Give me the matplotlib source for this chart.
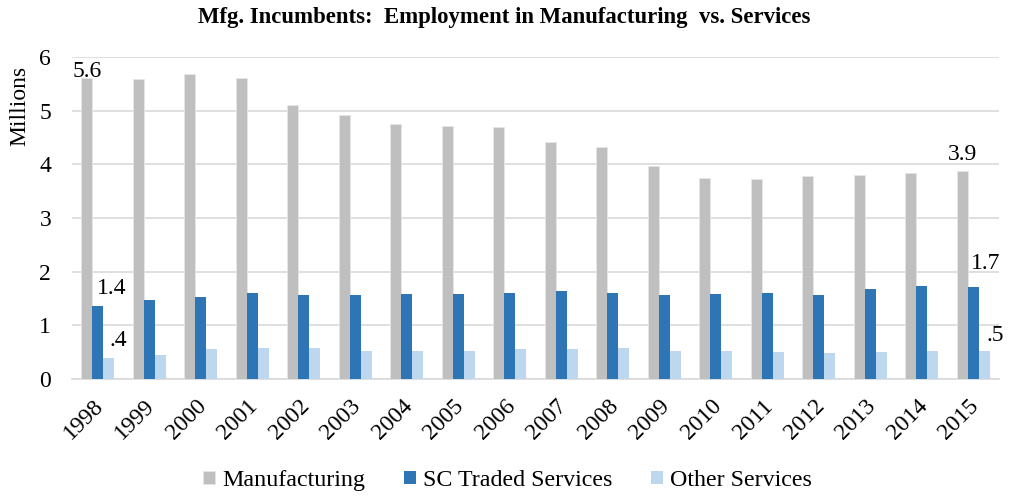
import numpy as np
import matplotlib
matplotlib.use("Agg")
import matplotlib.pyplot as plt
import matplotlib.transforms as mtrans

# data (millions)
years = ["1998", "1999", "2000", "2001", "2002", "2003", "2004", "2005", "2006",
         "2007", "2008", "2009", "2010", "2011", "2012", "2013", "2014", "2015"]
manufacturing = [5.61, 5.59, 5.68, 5.61, 5.11, 4.91, 4.76, 4.71, 4.69,
                 4.42, 4.33, 3.97, 3.75, 3.72, 3.79, 3.81, 3.83, 3.88]
sc_traded = [1.36, 1.47, 1.52, 1.60, 1.56, 1.56, 1.58, 1.58, 1.60,
             1.63, 1.60, 1.56, 1.58, 1.60, 1.56, 1.67, 1.74, 1.72]
other = [0.39, 0.44, 0.55, 0.57, 0.57, 0.52, 0.52, 0.52, 0.55,
         0.55, 0.57, 0.52, 0.52, 0.50, 0.48, 0.50, 0.52, 0.52]
yticks = [0, 1, 2, 3, 4, 5, 6]

plt.rcParams['font.family'] = ['Liberation Serif', 'DejaVu Serif']

fig = plt.figure(figsize=(10.09, 4.98), dpi=100)
ax = fig.add_axes([0.0714, 0.239, 0.9187, 0.6466])

colors = ['#BFBFBF', '#2E75B6', '#BDD7EE']
names = ['Manufacturing', 'SC Traded Services', 'Other Services']
x = np.arange(len(years))
w = 0.215
fs = 17
series = [manufacturing, sc_traded, other]
for i, (vals, c, n) in enumerate(zip(series, colors, names)):
    ax.bar(x + (i - 1) * w, vals, width=w, color=c, label=n,
           edgecolor='#E6E6E6' if i == 0 else 'none', linewidth=0.6, zorder=3)

ax.set_xlim(-0.5, len(years) - 0.5)
ax.set_ylim(0, 6)
ax.set_yticks(yticks)
ax.set_yticklabels([str(t) for t in yticks], fontsize=fs)
ax.set_xticks(x)
ax.set_xticklabels(years, fontsize=fs, rotation=45, ha='right', va='top',
                   rotation_mode='anchor')
ax.tick_params(axis='both', length=0)
ax.tick_params(axis='y', pad=15)
ax.tick_params(axis='x', pad=12)
# nudge rotated year labels a little left
shift = mtrans.ScaledTranslation(-5 / 100, 0, fig.dpi_scale_trans)
for t in ax.get_xticklabels():
    t.set_transform(t.get_transform() + shift)
ax.grid(axis='y', color='#D9D9D9', linewidth=1.2, zorder=0)
for s in ['top', 'right', 'left']:
    ax.spines[s].set_visible(False)
ax.spines['bottom'].set_color('#D9D9D9')
ax.spines['bottom'].set_linewidth(1.2)

# data labels on first and last year
lab = dict(fontsize=fs, ha='center', va='bottom', textcoords='offset points')
ax.annotate('5.6', (0 - w, manufacturing[0]), xytext=(0, -3), **lab)
ax.annotate('1.4', (0, sc_traded[0]), xytext=(10, 5), **lab)
ax.annotate('.4', (0 + w, other[0]), xytext=(7, 5), **lab)
ax.annotate('3.9', (17 - w, manufacturing[17]), xytext=(0, 4), **lab)
ax.annotate('1.7', (17, sc_traded[17]), xytext=(9, 9), **lab)
ax.annotate('.5', (17 + w, other[17]), xytext=(8, 4), **lab)

fig.text(0.5, 0.965, 'Mfg. Incumbents:  Employment in Manufacturing  vs. Services',
         ha='center', va='center', fontsize=16.4, fontweight='bold')
fig.text(0.02, 0.787, 'Millions', rotation=90, ha='center', va='center', fontsize=fs)

ax.legend(loc='center', bbox_to_anchor=(0.503, 0.035), bbox_transform=fig.transFigure,
          ncol=3, frameon=False, fontsize=17.3, handlelength=0.5, handleheight=0.5,
          handletextpad=0.3, columnspacing=1.6)

fig.savefig('out.png', dpi=100)
